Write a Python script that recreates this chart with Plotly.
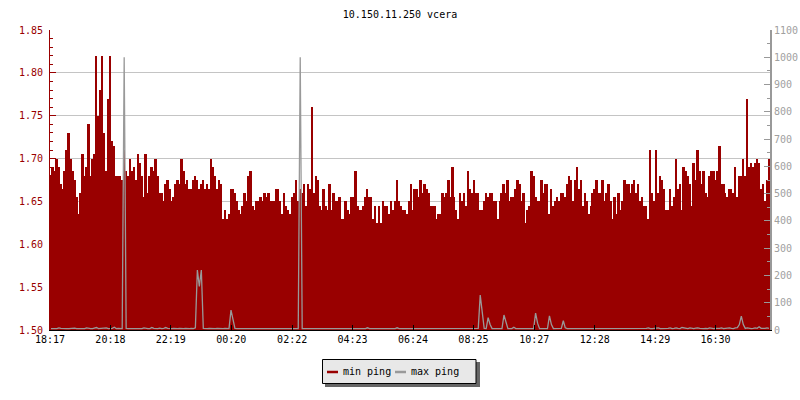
import plotly.graph_objects as go

title_text = "10.150.11.250 vcera"
start_label = "18:17"
window_minutes = 1442
tick_labels = ["18:17", "20:18", "22:19", "00:20", "02:22", "04:23", "06:24",
               "08:25", "10:27", "12:28", "14:29", "16:30"]
series_names = ["min ping", "max ping"]

# min ping (left axis), ~4 minute resolution
min_ping = [
    1.68, 1.69, 1.685, 1.70, 1.69, 1.67, 1.665, 1.685, 1.71, 1.73, 1.70, 1.685, 1.675,
    1.655, 1.635, 1.66, 1.705, 1.68, 1.69, 1.74, 1.68, 1.70, 1.705, 1.82, 1.75, 1.78,
    1.82, 1.73, 1.685, 1.77, 1.82, 1.72, 1.715, 1.68, 1.68, 1.68, 1.675, 1.71, 1.685,
    1.68, 1.70, 1.685, 1.69, 1.675, 1.705, 1.695, 1.68, 1.655, 1.705, 1.66, 1.68, 1.69,
    1.685, 1.70, 1.68, 1.66, 1.66, 1.65, 1.67, 1.675, 1.665, 1.65, 1.655, 1.67, 1.675,
    1.67, 1.70, 1.685, 1.67, 1.675, 1.665, 1.665, 1.675, 1.68, 1.675, 1.665, 1.67, 1.675,
    1.665, 1.67, 1.665, 1.70, 1.69, 1.68, 1.665, 1.675, 1.67, 1.63, 1.64, 1.63, 1.635,
    1.665, 1.665, 1.66, 1.65, 1.64, 1.635, 1.645, 1.66, 1.65, 1.68, 1.685, 1.645, 1.64,
    1.65, 1.65, 1.655, 1.65, 1.66, 1.655, 1.66, 1.65, 1.65, 1.65, 1.665, 1.665, 1.65,
    1.635, 1.66, 1.645, 1.64, 1.635, 1.655, 1.66, 1.675, 1.65, 1.665, 1.66, 1.67, 1.645,
    1.67, 1.665, 1.76, 1.66, 1.68, 1.675, 1.645, 1.64, 1.665, 1.645, 1.64, 1.67, 1.64,
    1.66, 1.65, 1.65, 1.655, 1.63, 1.63, 1.65, 1.64, 1.635, 1.655, 1.655, 1.685, 1.645,
    1.64, 1.64, 1.645, 1.655, 1.665, 1.655, 1.655, 1.63, 1.645, 1.625, 1.645, 1.625, 1.65,
    1.645, 1.645, 1.635, 1.65, 1.64, 1.65, 1.675, 1.65, 1.645, 1.64, 1.64, 1.635, 1.65,
    1.67, 1.64, 1.665, 1.665, 1.655, 1.675, 1.66, 1.67, 1.665, 1.66, 1.645, 1.645, 1.645,
    1.63, 1.635, 1.635, 1.66, 1.655, 1.66, 1.675, 1.655, 1.69, 1.655, 1.64, 1.63, 1.66,
    1.65, 1.66, 1.645, 1.685, 1.665, 1.66, 1.675, 1.66, 1.66, 1.64, 1.64, 1.65, 1.66,
    1.655, 1.66, 1.66, 1.65, 1.65, 1.63, 1.65, 1.66, 1.67, 1.66, 1.675, 1.65, 1.655,
    1.655, 1.665, 1.675, 1.67, 1.65, 1.66, 1.625, 1.64, 1.645, 1.685, 1.68, 1.655, 1.65,
    1.65, 1.675, 1.66, 1.67, 1.67, 1.635, 1.665, 1.645, 1.65, 1.655, 1.65, 1.66, 1.66,
    1.655, 1.67, 1.68, 1.675, 1.65, 1.675, 1.69, 1.665, 1.675, 1.645, 1.66, 1.65, 1.635,
    1.645, 1.66, 1.665, 1.675, 1.66, 1.66, 1.675, 1.65, 1.66, 1.67, 1.65, 1.63, 1.655,
    1.635, 1.66, 1.64, 1.65, 1.675, 1.67, 1.67, 1.66, 1.67, 1.675, 1.66, 1.67, 1.65,
    1.655, 1.645, 1.645, 1.63, 1.71, 1.66, 1.65, 1.71, 1.66, 1.68, 1.675, 1.665, 1.64,
    1.64, 1.665, 1.645, 1.655, 1.70, 1.665, 1.67, 1.64, 1.69, 1.685, 1.68, 1.67, 1.645,
    1.695, 1.675, 1.71, 1.685, 1.67, 1.685, 1.66, 1.655, 1.68, 1.685, 1.685, 1.675, 1.685,
    1.715, 1.67, 1.67, 1.66, 1.655, 1.665, 1.665, 1.66, 1.69, 1.655, 1.68, 1.68, 1.70,
    1.68, 1.77, 1.69, 1.695, 1.69, 1.695, 1.70, 1.695, 1.665, 1.67, 1.65, 1.675, 1.70,
]

# max ping (right axis)
max_ping = [
    5, 6, 5, 5, 8, 6, 5, 6, 5, 5, 6, 5, 7, 5, 5, 6, 5, 5, 8, 6, 5, 5, 6, 9, 5, 6,
    5, 6, 8, 5, 5, 6, 10, 5, 6, 5, 5, 1000, 6, 5, 5, 6, 7, 5, 5, 6, 5, 8, 6, 5, 5, 9,
    6, 5, 5, 7, 5, 6, 9, 6, 5, 5, 6, 5, 5, 6, 5, 5, 6, 5, 5, 6, 5, 8, 220, 160, 220, 6,
    5, 5, 6, 5, 5, 5, 6, 5, 5, 5, 6, 5, 5, 73, 35, 6, 5, 5, 5, 6, 5, 5, 5, 6, 5, 5,
    5, 5, 6, 5, 5, 5, 5, 6, 5, 5, 5, 5, 6, 5, 5, 5, 5, 5, 6, 5, 5, 5, 1000, 5, 5, 5,
    5, 5, 5, 6, 5, 5, 5, 5, 5, 6, 5, 5, 5, 5, 5, 6, 5, 5, 5, 5, 6, 5, 5, 5, 5, 6,
    5, 5, 5, 5, 8, 5, 5, 5, 5, 6, 5, 5, 5, 5, 5, 6, 5, 5, 5, 8, 5, 5, 5, 5, 6, 5,
    5, 5, 5, 5, 6, 5, 5, 5, 5, 5, 6, 5, 5, 5, 5, 5, 6, 5, 5, 5, 5, 5, 6, 5, 5, 5,
    5, 5, 6, 5, 5, 5, 5, 5, 6, 128, 65, 6, 5, 45, 20, 5, 5, 5, 6, 5, 5, 55, 25, 5, 5, 5,
    10, 5, 5, 5, 5, 6, 5, 5, 5, 5, 5, 62, 25, 5, 5, 5, 5, 5, 52, 20, 5, 5, 5, 5, 6, 34,
    8, 5, 5, 6, 5, 5, 5, 5, 6, 5, 5, 5, 5, 5, 6, 5, 5, 5, 5, 6, 5, 5, 5, 5, 5, 6,
    5, 5, 6, 5, 5, 5, 5, 6, 5, 5, 5, 6, 5, 5, 5, 6, 8, 5, 5, 6, 5, 8, 5, 5, 6, 5,
    6, 8, 5, 6, 8, 6, 5, 9, 8, 6, 5, 8, 6, 5, 7, 8, 6, 5, 5, 6, 5, 8, 6, 5, 6, 5,
    6, 8, 5, 6, 7, 8, 6, 5, 8, 9, 20, 51, 20, 6, 8, 6, 5, 6, 8, 6, 12, 6, 5, 6, 8, 6,
]

RED = "#990000"
GREY = "#999999"
FONT = "DejaVu Sans Mono"

W, H = 800, 400
ML, MR, MT, MB = 50, 30, 30, 70
PW = W - ML - MR   # 720
PH = H - MT - MB   # 300


def px(sx):  # pixel x -> paper x
    return (sx - ML) / PW


def py(sy):  # pixel y -> paper y
    return (MT + PH - sy) / PH


n = len(min_ping)
step = window_minutes / n
xs = [(i + 0.5) * step for i in range(n)]


def to_min(lbl):
    h, m = lbl.split(":")
    return int(h) * 60 + int(m)


start = to_min(start_label)
tick_vals = [(to_min(t) - start) % 1440 for t in tick_labels]

fig = go.Figure()
fig.add_trace(go.Bar(x=xs, y=min_ping, width=step, name=series_names[0],
                     marker=dict(color=RED, line=dict(width=0)),
                     showlegend=False, yaxis="y", hoverinfo="skip"))
fig.add_trace(go.Scatter(x=xs[:len(max_ping)], y=max_ping, mode="lines", name=series_names[1],
                         line=dict(color=GREY, width=1.3), showlegend=False, yaxis="y2"))

# legend box (drawn with shapes + annotations to match the compact original)
shapes = [
    dict(type="rect", xref="paper", yref="paper", x0=px(325), x1=px(480), y0=py(362), y1=py(387),
         fillcolor="#666666", line=dict(width=0), layer="above"),
    dict(type="rect", xref="paper", yref="paper", x0=px(322.5), x1=px(476), y0=py(359.5), y1=py(383.5),
         fillcolor="#e8e8e8", line=dict(color="black", width=1), layer="above"),
    dict(type="line", xref="paper", yref="paper", x0=px(327), x1=px(338), y0=py(372), y1=py(372),
         line=dict(color=RED, width=2.5), layer="above"),
    dict(type="line", xref="paper", yref="paper", x0=px(395), x1=px(406), y0=py(372), y1=py(372),
         line=dict(color=GREY, width=2.5), layer="above"),
]
annotations = [
    dict(text=series_names[0], xref="paper", yref="paper", x=px(341), y=py(371), xanchor="left",
         yanchor="middle", showarrow=False, font=dict(family=FONT, size=10, color="black")),
    dict(text=series_names[1], xref="paper", yref="paper", x=px(408.5), y=py(371), xanchor="left",
         yanchor="middle", showarrow=False, font=dict(family=FONT, size=10, color="black")),
]

fig.update_layout(
    width=W, height=H,
    margin=dict(l=ML, r=MR, t=MT, b=MB, autoexpand=False),
    plot_bgcolor="white", paper_bgcolor="white",
    font=dict(family=FONT, size=10, color="black"),
    title=dict(text=title_text, x=0.5, xanchor="center", y=1 - 14 / H,
               yanchor="middle", yref="container",
               font=dict(family=FONT, size=10, color="black")),
    bargap=0,
    showlegend=False,
    shapes=shapes,
    annotations=annotations,
    xaxis=dict(range=[0, window_minutes], tickvals=tick_vals, ticktext=tick_labels,
               ticks="inside", ticklen=5, tickcolor="black", showline=True, linecolor="black",
               linewidth=1, showgrid=False, zeroline=False, automargin=False,
               tickfont=dict(family=FONT, size=10, color="black")),
    yaxis=dict(range=[1.50, 1.85], tick0=1.5, dtick=0.05, tickformat=".2f",
               ticks="inside", ticklen=6, tickcolor=RED, showline=True, linecolor=RED,
               linewidth=1, showgrid=True, gridcolor="#c4c4c4", gridwidth=1, zeroline=False,
               automargin=False,
               tickfont=dict(family=FONT, size=10, color=RED), ticklabelstandoff=4,
               minor=dict(dtick=0.01, ticks="inside", ticklen=3, tickcolor=RED, showgrid=False)),
    yaxis2=dict(range=[0, 1100], tick0=0, dtick=100, overlaying="y", side="right",
                ticks="inside", ticklen=6, tickcolor=GREY, showline=True, linecolor=GREY,
                linewidth=2, showgrid=False, zeroline=False, automargin=False,
                ticklabelstandoff=0,
                tickfont=dict(family=FONT, size=10, color="#a0a0a0"),
                minor=dict(dtick=50, ticks="inside", ticklen=3, tickcolor=GREY, showgrid=False)),
)

fig.write_html("out.html", config={"displayModeBar": False},
               post_script="document.body.style.margin='0px';document.body.style.overflow='hidden';")
